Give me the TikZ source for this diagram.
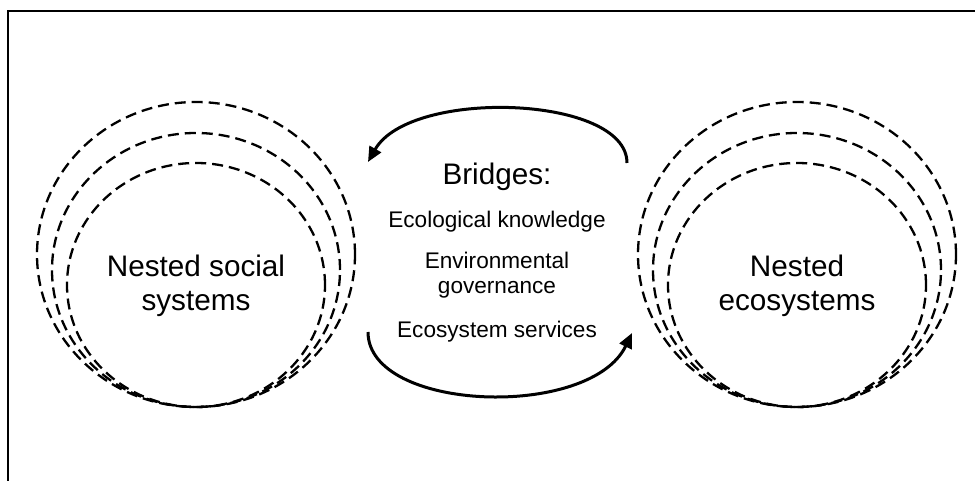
\documentclass[tikz,border=0pt]{standalone}
\usepackage{fontspec}
\setmainfont{Liberation Sans}
\usetikzlibrary{arrows.meta}

\tikzset{
  nest/.style={line width=1.15pt, dash pattern=on 5.5pt off 3pt},
  bigtext/.style={align=center, font=\fontsize{14.85}{17}\selectfont},
  smalltext/.style={align=center, font=\fontsize{11.3}{12.5}\selectfont},
  flow/.style={line width=1.5pt, -{Triangle[length=7.5pt,width=6.5pt]}}
}

\begin{document}
\begin{tikzpicture}[x=0.5pt,y=0.5pt]
\useasboundingbox (0,0) rectangle (975,481);
\draw[line width=1.1pt] (8,-5) -- (8,470) -- (980,470);
% social side
\draw[nest] (196,226.5) ellipse [x radius=159, y radius=152.5];
\draw[nest] (196,211) ellipse [x radius=144, y radius=137];
\draw[nest] (196,196) ellipse [x radius=129, y radius=122];
% eco side
\draw[nest] (797,226.5) ellipse [x radius=159, y radius=152.5];
\draw[nest] (797,211) ellipse [x radius=144, y radius=137];
\draw[nest] (797,196) ellipse [x radius=129, y radius=122];
\node[bigtext](social) at (196,195){Nested social\\systems};
\node[bigtext](eco) at (797,195){Nested\\ecosystems};
\node[bigtext, anchor=base](bridges) at (497,296){Bridges:};
\node[smalltext, anchor=base](knowledge) at (497,253){Ecological knowledge};
\node[smalltext](governance) at (497,205.5){Environmental\\governance};
\node[smalltext, anchor=base](services) at (497,143){Ecosystem services};
\coordinate (topstart) at (627,318);
\coordinate (topend) at (368,319);
\coordinate (botstart) at (368,149);
\coordinate (botend) at (632,148);
\draw[flow] (topstart) .. controls (627,386) and (410,393) .. (topend);
\draw[flow] (botstart) .. controls (368,69) and (590,61) .. (botend);
\end{tikzpicture}
\end{document}
